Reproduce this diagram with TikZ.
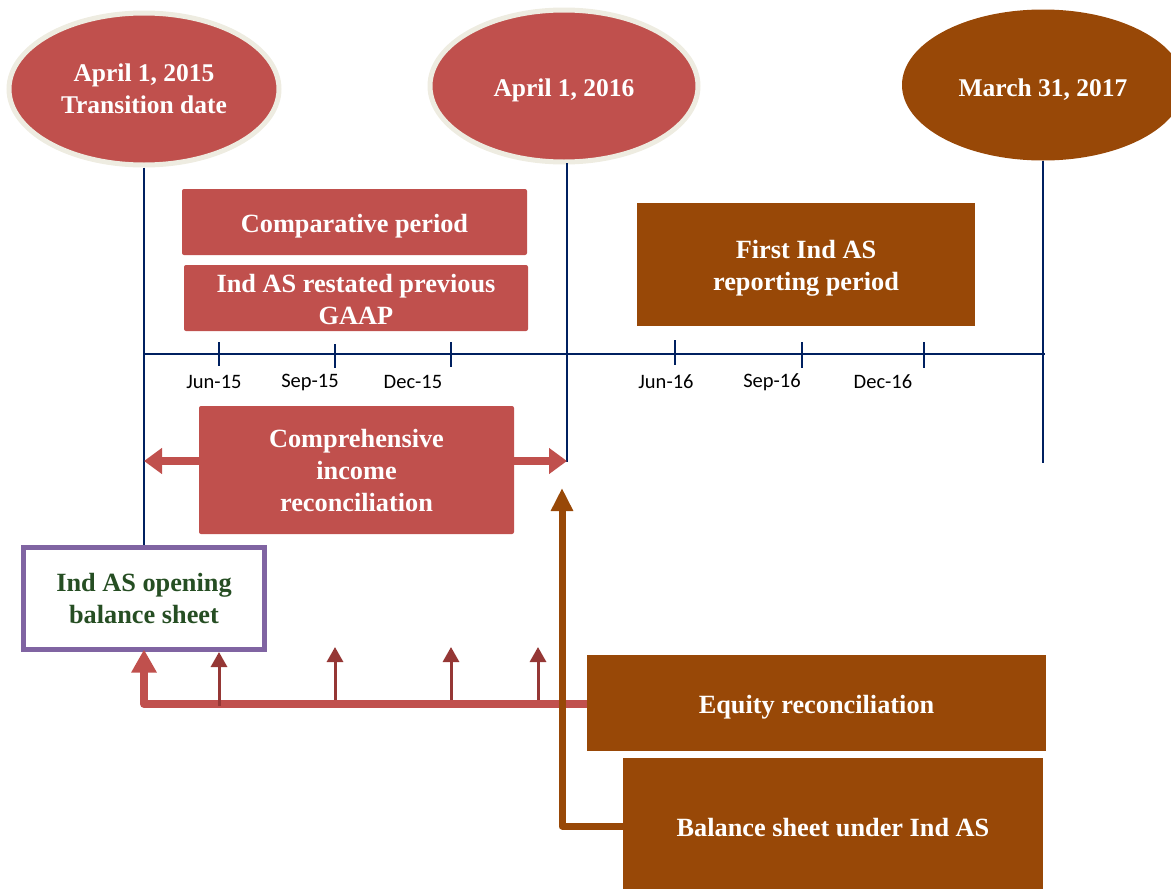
\documentclass[tikz,border=0pt]{standalone}
\usepackage{fontspec}
\setmainfont{Liberation Serif}
\newfontfamily\calib{Carlito}
\usetikzlibrary{arrows.meta,shapes.geometric}
\definecolor{cred}{HTML}{C0504D}
\definecolor{cbrown}{HTML}{984807}
\definecolor{cnavy}{HTML}{002060}
\definecolor{cpurple}{HTML}{8064A2}
\definecolor{cdred}{HTML}{953735}
\definecolor{cgreen}{HTML}{264E23}
\definecolor{cbeige}{HTML}{EEECE1}
\tikzset{
  txt/.style={font=\bfseries\fontsize{26.3}{32}\selectfont, align=center, text=white,
              execute at begin node={\rule{0pt}{26pt}}},
  ell/.style={ellipse, txt, inner sep=0pt, font=\bfseries\fontsize{25.5}{32}\selectfont,
              execute at begin node={\rule{0pt}{22pt}}},
  redell/.style={ell, fill=cred, draw=cbeige, line width=5pt},
  brownell/.style={ell, fill=cbrown},
  rbox/.style={rectangle, rounded corners=2pt, fill=cred, txt, inner sep=0pt},
  bbox/.style={rectangle, fill=cbrown, txt, inner sep=0pt},
  plaintxt/.style={txt, inner sep=0pt},
  navyline/.style={draw=cnavy, line width=2.6pt},
  ticklbl/.style={font=\calib\fontsize{20.5}{24}\selectfont, text=black, inner sep=0pt},
  bigred/.style={draw=cred, line width=8pt, line join=round},
  smallarr/.style={draw=cdred, line width=3pt, -{Triangle[length=15pt,width=16pt]}},
  brownarr/.style={draw=cbrown, line width=7pt, line join=round, -{Triangle[length=23pt,width=21pt]}},
}
\begin{document}
\begin{tikzpicture}[x=1pt,y=-1pt]
\useasboundingbox (0,0) rectangle (1171,889);

% ellipses
\node[redell, minimum width=270pt, minimum height=152pt] (e1) at (144,89) {April 1, 2015\\Transition date};
\node[redell, minimum width=268pt, minimum height=152pt] (e2) at (564,86) {April 1, 2016};
\node[brownell, minimum width=282pt, minimum height=151pt] (e3) at (1043,85) {March 31, 2017};

% top boxes
\node[rbox, minimum width=345pt, minimum height=66pt] (comp) at (354.5,222) {Comparative period};
\node[rbox, minimum width=344pt, minimum height=66pt] (rest) at (356,298) {};
\node[plaintxt] (resttxt) at (356,299.5) {Ind AS restated previous\\GAAP};
\node[bbox, minimum width=338pt, minimum height=123pt] (first) at (806,264.5) {};
\node[plaintxt] (firsttxt) at (806,268.5) {First Ind AS\\reporting period};

% opening balance sheet
\node[rectangle, draw=cpurple, line width=5pt, fill=white, minimum width=241pt, minimum height=102pt,
      txt, text=cgreen, inner sep=0pt] (ob) at (144,598.5) {Ind AS opening\\balance sheet};

% comprehensive
\node[rbox, minimum width=315pt, minimum height=128pt] (cir) at (356.5,470) {Comprehensive\\income\\reconciliation};

% bottom boxes
\node[bbox, minimum width=459pt, minimum height=96pt] (eq) at (816.5,703) {Equity reconciliation};
\node[bbox, minimum width=420pt, minimum height=131pt] (bs) at (833,823.5) {Balance sheet under Ind AS};

% coordinates
\coordinate (v2end) at (567,462);
\coordinate (v2top) at (567,163);
\coordinate (v3end) at (1043,463);
\coordinate (tl0) at (144,354);
\coordinate (tl1) at (1045,354);
\coordinate (cl) at (144,461);
\coordinate (cr) at (567,461);
\coordinate (bsup) at (562,488);
\coordinate (redcorner) at (144,704);

% vertical navy lines
\draw[navyline] (e1.south) -- (ob.north);
\draw[navyline] (v2top) -- (v2end);
\draw[navyline] (e3.south) -- (v3end);
\draw[navyline] (tl0) -- (tl1);

% ticks
\foreach \x/\a/\b/\n in {219/342/366/t1, 335/344/368/t2, 451/342/367/t3, 675/340/365/t4, 802/342/368/t5, 924/342/368/t6} {
  \coordinate (\n a) at (\x,\a);
  \coordinate (\n b) at (\x,\b);
  \draw[navyline] (\n a) -- (\n b);
}
\node[ticklbl] (l1) at (214,382) {Jun-15};
\node[ticklbl] (l2) at (310,382) {Sep-15};
\node[ticklbl] (l3) at (413,382) {Dec-15};
\node[ticklbl] (l4) at (666,382) {Jun-16};
\node[ticklbl] (l5) at (772,382) {Sep-16};
\node[ticklbl] (l6) at (883,382) {Dec-16};

% comprehensive arrows
\draw[bigred, -{Triangle[length=18pt,width=25pt]}] (cir.west |- cl) -- (cl);
\draw[bigred, -{Triangle[length=18pt,width=25pt]}] (cir.east |- cr) -- (cr);

% red equity path
\draw[bigred, -{Triangle[length=23pt,width=24pt]}] (eq.west |- redcorner) -- (redcorner) -- ([yshift=2.5pt]ob.south);

% small arrows
\coordinate (s1b) at (219,706);
\coordinate (s1t) at (219,652);
\coordinate (s2b) at (335,700);
\coordinate (s2t) at (335,647);
\coordinate (s3b) at (451,700);
\coordinate (s3t) at (451,647);
\coordinate (s4b) at (538,700);
\coordinate (s4t) at (538,647);
\draw[smallarr] (s1b) -- (s1t);
\draw[smallarr] (s2b) -- (s2t);
\draw[smallarr] (s3b) -- (s3t);
\draw[smallarr] (s4b) -- (s4t);

% brown path
\draw[brownarr] (bs.west |- 0,826) -| (bsup);
\end{tikzpicture}
\end{document}
